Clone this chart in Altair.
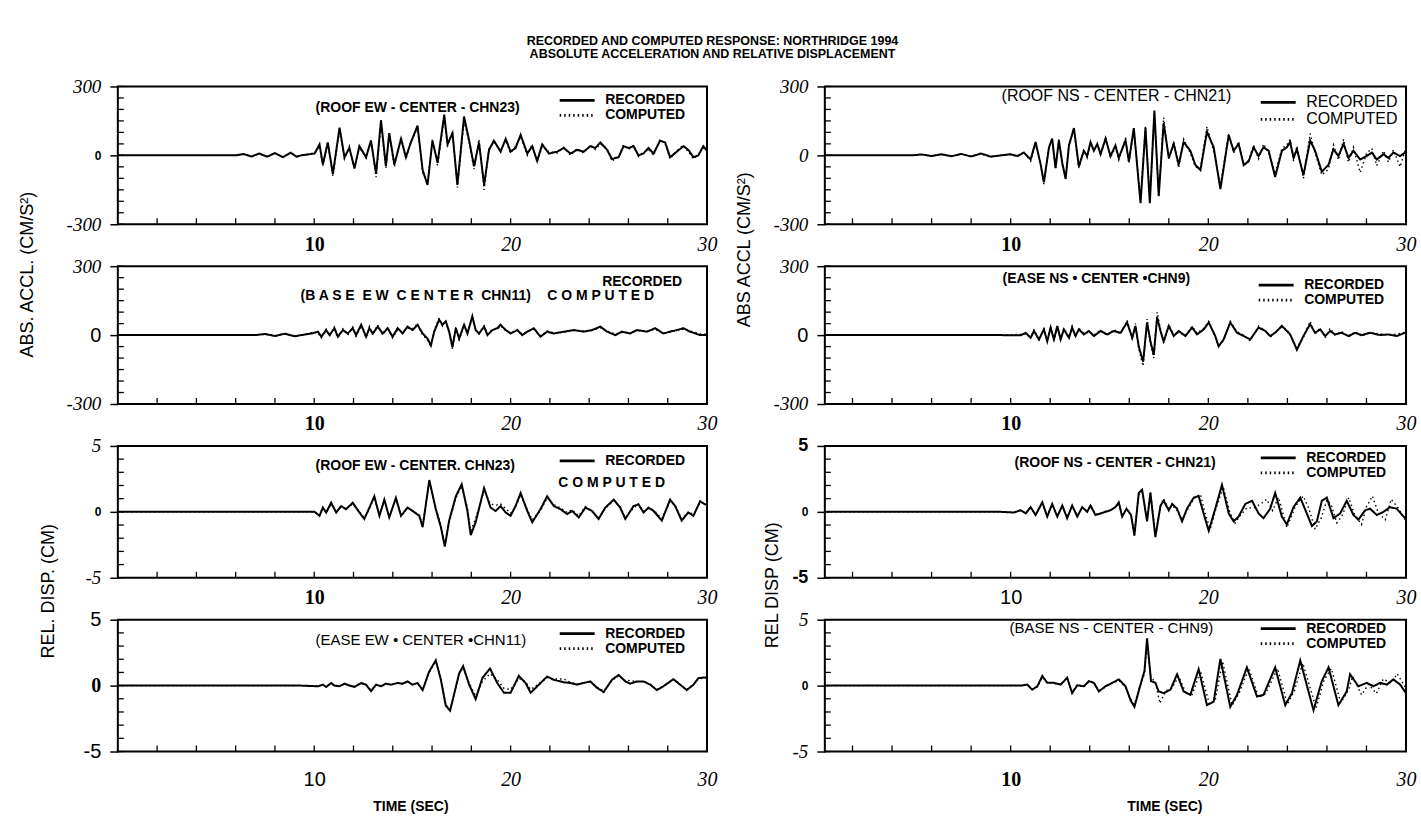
import altair as alt
import pandas as pd

SANS = "Liberation Sans"
SERIF = "Liberation Serif"

TITLE = ["RECORDED AND COMPUTED RESPONSE: NORTHRIDGE 1994",
         "ABSOLUTE ACCELERATION AND RELATIVE DISPLACEMENT"]
SERIES = ["RECORDED", "COMPUTED"]
X_LABELS = [10, 20, 30]
X_MINOR = [2, 4, 6, 8, 10, 12, 14, 16, 18, 20, 22, 24, 26, 28]
ACC_MAJOR = [-300, 0, 300]
ACC_MINOR = [-300, -250, -200, -150, -100, -50, 0, 50, 100, 150, 200, 250, 300]
DISP_MAJOR = [-5, 0, 5]
DISP_MINOR = [-5, -4, -3, -2, -1, 0, 1, 2, 3, 4, 5]

# ---- Panel 1: roof EW acceleration (cm/s2), CHN23
P1_T = [0, 6.0, 6.4, 6.8, 7.2, 7.6, 8.0, 8.4, 8.8, 9.1,
        9.34, 10.02, 10.27, 10.44, 10.69, 10.95, 11.29, 11.54, 11.79, 12.05, 12.30, 12.64, 12.89,
        13.15, 13.40, 13.65, 13.82, 14.08, 14.42, 14.67, 14.92, 15.26, 15.52, 15.77, 16.02, 16.28,
        16.62, 16.79, 17.04, 17.29, 17.63, 17.89, 18.14, 18.39, 18.65, 18.90, 19.15, 19.49, 19.75,
        20.00, 20.25, 20.51, 20.85, 21.10, 21.35, 21.61, 21.95, 22.37, 22.71, 23.05, 23.38, 23.72,
        24.06, 24.31, 24.57, 24.91, 25.16, 25.50, 25.75, 26.01, 26.26, 26.51, 26.77, 27.02, 27.28,
        27.61, 27.87, 28.12, 28.46, 28.80, 29.05, 29.31, 29.56, 29.81, 30.0]
P1_REC = [0, 0, 6, -5, 8, -6, 10, -8, 12, -6,
          0, 8, 48, -40, 56, -81, 121, -8, 32, -56, 40, -8, 64, -81, 153, -48, 97, -40, 72, -8,
          56, 129, -64, -129, 64, -32, 177, 48, 97, -129, 169, 64, -48, 56, -129, 24, 64, 16, 72,
          16, 32, 89, 8, 40, -24, 48, 8, 16, 32, 8, 24, 16, 40, 32, 56, 24, -16, -8, 40, 32, 40,
          0, 8, 32, 8, 64, 56, -8, 16, 40, 24, -8, 0, 40, 20]
P1_COM = [0, 0, 5, -4, 7, -5, 9, -7, 10, -5,
          0, 10, 40, -45, 60, -90, 110, -15, 40, -60, 35, -12, 70, -95, 140, -55, 90, -50, 80, -15,
          60, 120, -75, -120, 70, -45, 160, 40, 105, -140, 150, 55, -60, 70, -150, 30, 55, 25, 65,
          10, 40, 80, 0, 45, -30, 40, 15, 10, 35, 0, 30, 10, 45, 25, 50, 30, -25, -5, 45, 25, 45,
          -5, 15, 25, 0, 70, 50, -15, 20, 45, 15, -15, 5, 35, 15]

# ---- Panel 2: roof NS acceleration (cm/s2), CHN21
P2_T = [0, 5.0, 5.5, 6.0, 6.5, 7.0, 7.5, 8.0, 8.5, 9.0,
        9.50, 10.00, 10.34, 10.67, 11.01, 11.26, 11.52, 11.68, 11.94, 12.10, 12.27, 12.44, 12.61,
        12.78, 12.95, 13.20, 13.45, 13.70, 13.87, 14.04, 14.21, 14.38, 14.55, 14.80, 15.05, 15.30,
        15.47, 15.81, 15.98, 16.23, 16.57, 16.82, 17.04, 17.27, 17.49, 17.74, 18.00, 18.25, 18.50,
        18.75, 19.09, 19.34, 19.60, 19.93, 20.27, 20.61, 21.03, 21.28, 21.53, 21.79, 22.04, 22.29,
        22.54, 22.79, 23.05, 23.38, 23.72, 23.97, 24.14, 24.31, 24.48, 24.81, 25.15, 25.40, 25.74,
        26.08, 26.33, 26.58, 26.84, 27.09, 27.34, 27.68, 28.01, 28.27, 28.52, 28.86, 29.11, 29.36,
        29.70, 29.95]
P2_REC = [0, 0, 4, -3, 5, -4, 6, -5, 8, -6,
          0, 5, -3, 12, -18, 58, -41, -117, 35, 73, -56, 65, -33, -103, 43, 119, -49, 20, -3, 58,
          20, 50, 5, 73, -3, 43, -11, 65, -26, 119, -208, 119, -208, 195, -178, 141, -11, 50, -41,
          58, 20, -41, -64, 103, 35, -147, 88, 20, 50, -41, -26, 35, -3, 35, 20, -94, 20, 35, 58,
          -11, 27, -87, 65, 20, -71, -41, 27, -3, 50, -11, 20, -18, -3, 12, -18, 5, -11, 12, -3, 12]
P2_COM = [0, 0, 3, -2, 4, -3, 5, -4, 6, -4,
          0, 3, -5, 15, -25, 50, -45, -125, 40, 65, -60, 70, -40, -95, 50, 110, -55, 25, -10, 50,
          25, 45, 0, 80, -10, 35, -20, 75, -35, 110, -195, 130, -200, 180, -170, 165, -20, 60, -55,
          70, 10, -50, -55, 125, 20, -130, 95, 10, 60, -50, -20, 45, -15, 50, 10, -80, 30, 45, 70,
          -25, 40, -100, 95, 10, -85, -60, 45, -20, 70, -30, 35, -75, 10, 30, -45, 20, -30, 25, -50, 20]

# ---- Panel 3: base EW acceleration (cm/s2), CHN11
P3_T = [0, 7.0, 7.5, 8.0, 8.5, 9.0,
        9.34, 9.85, 10.19, 10.36, 10.61, 10.78, 11.03, 11.20, 11.46, 11.71, 11.96, 12.13, 12.39,
        12.64, 12.81, 12.98, 13.23, 13.49, 13.74, 13.99, 14.25, 14.50, 14.75, 15.01, 15.26, 15.52,
        15.77, 15.94, 16.11, 16.36, 16.53, 16.70, 16.87, 17.04, 17.21, 17.38, 17.63, 17.80, 18.05,
        18.22, 18.39, 18.65, 18.82, 19.07, 19.32, 19.49, 19.75, 20.00, 20.34, 20.59, 20.85, 21.18,
        21.52, 21.86, 22.20, 22.71, 23.21, 23.72, 24.15, 24.57, 24.91, 25.33, 25.67, 26.09, 26.43,
        26.94, 27.36, 27.78, 28.12, 28.46, 28.80, 29.14, 29.64, 30.0]
P3_REC = [0, 0, 5, -4, 6, -5,
          0, 7, 15, -7, 22, 0, 30, -7, 22, 7, 30, 0, 45, -7, 30, 7, 37, 7, 30, -7, 30, 7, 37, 22,
          45, 7, -15, -45, 15, 67, 45, 60, 15, -52, 30, -15, 45, 7, 82, 22, 7, 37, 0, 22, 30, 45,
          22, 7, 22, 0, 15, 30, -7, 15, 7, 15, 22, 15, 22, 37, 15, 0, 15, 7, 22, 15, 30, 7, 15, 22,
          30, 15, 0, 0]
P3_COM = [0, 0, 4, -3, 5, -4,
          0, 10, 10, -12, 25, -5, 35, -12, 28, 0, 35, -5, 40, -12, 38, 0, 45, 0, 35, -12, 25, 15,
          30, 28, 50, 0, -20, -50, 20, 75, 40, 65, 10, -60, 35, -20, 40, 12, 72, 25, 5, 40, 5, 25,
          25, 40, 20, 10, 20, 5, 15, 25, -3, 18, 10, 12, 20, 18, 20, 32, 18, 5, 12, 10, 20, 18, 25,
          10, 12, 20, 25, 18, 5, 3]

# ---- Panel 4: base NS acceleration (cm/s2), CHN9
P4_T = [0,
        9.50, 10.51, 10.76, 11.01, 11.18, 11.43, 11.68, 11.85, 12.02, 12.19, 12.36, 12.53, 12.69,
        12.95, 13.11, 13.28, 13.45, 13.70, 13.96, 14.21, 14.55, 14.88, 15.22, 15.56, 15.89, 16.15,
        16.31, 16.48, 16.70, 16.90, 17.07, 17.24, 17.41, 17.58, 17.74, 18.00, 18.25, 18.50, 18.84,
        19.18, 19.43, 19.77, 20.02, 20.35, 20.52, 20.77, 21.11, 21.45, 21.79, 22.12, 22.54, 22.88,
        23.13, 23.38, 23.72, 23.97, 24.14, 24.48, 24.81, 25.15, 25.40, 25.66, 25.91, 26.16, 26.41,
        26.75, 27.09, 27.43, 27.76, 28.18, 28.69, 29.11, 29.53, 29.95]
P4_REC = [0,
          0, -1, 10, -12, 18, -19, 25, -27, 33, -19, 40, -19, 25, -12, 33, -4, 25, 3, 18, -4, 18,
          3, 18, 10, 55, -12, 40, -49, -116, 55, -27, -86, 77, 18, -27, 40, -4, 18, -4, 33, 3, 25,
          55, -4, -49, -19, 55, 10, -4, -19, 33, 18, -4, 10, 40, 18, 3, -64, -4, 48, 10, 25, -4, 18,
          3, 10, -4, 10, 0, 10, 0, 3, -4, 10]
P4_COM = [0,
          0, 3, 5, -8, 22, -25, 30, -22, 38, -25, 35, -25, 30, -8, 38, -10, 30, 8, 12, 0, 22, -3,
          25, 5, 65, -20, 50, -60, -135, 70, -35, -100, 100, 25, -35, 45, 0, 12, 0, 38, 8, 30, 60,
          -10, -45, -25, 60, 15, 0, -25, 40, 20, -10, 15, 35, 25, 0, -55, -10, 60, 5, 30, -12, 30,
          0, 15, -8, 15, -5, 12, 5, 0, 5, 12]

# ---- Panel 5: roof EW relative displacement (cm), CHN23
P5_T = [0,
        10.02, 10.27, 10.44, 10.61, 10.86, 11.12, 11.37, 11.62, 11.96, 12.30, 12.55, 12.81, 13.06,
        13.32, 13.57, 13.82, 14.16, 14.42, 14.75, 15.01, 15.35, 15.52, 15.86, 16.19, 16.45, 16.65,
        16.87, 17.21, 17.51, 17.80, 17.97, 18.22, 18.65, 18.98, 19.24, 19.49, 19.75, 20.00, 20.25,
        20.51, 20.85, 21.10, 21.52, 21.86, 22.20, 22.54, 22.88, 23.13, 23.47, 23.81, 24.15, 24.48,
        24.82, 25.25, 25.58, 25.84, 26.26, 26.51, 26.77, 27.02, 27.28, 27.70, 28.12, 28.38, 28.71,
        29.05, 29.31, 29.65, 29.90, 30.0]
P5_REC = [0,
          0, -0.30, 0.32, -0.05, 0.69, -0.05, 0.44, 0.20, 0.69, -0.05, -0.54, 0.32, 1.18, -0.30,
          0.93, -0.42, 1.06, -0.30, 0.32, 0.07, -0.30, -1.16, 2.41, 0.20, -1.16, -2.63, -0.66, 1.18,
          2.09, 0.07, -1.77, -0.79, 1.80, 0.32, 0.07, 0.44, -0.05, -0.30, 0.44, 1.43, 0.07, -0.79,
          0.20, 1.18, 0.44, 0.20, -0.17, 0.07, -0.42, 0.32, 0.07, -0.54, 0.32, 0.93, 0.32, -0.54,
          0.44, 0.57, -0.05, 0.32, 0.07, -0.66, 0.93, 0.44, -0.66, -0.05, -0.30, 0.81, 0.57, 0.60]
P5_COM = [0,
          0, -0.25, 0.35, -0.10, 0.60, 0, 0.40, 0.25, 0.60, 0, -0.45, 0.25, 1.10, -0.25, 0.85,
          -0.35, 1.00, -0.25, 0.30, 0.10, -0.25, -1.05, 2.30, 0.30, -1.00, -2.50, -0.80, 1.05, 1.95,
          0.30, -1.45, -0.50, 1.62, 0.60, 0.50, 0.60, 0.25, -0.10, 0.35, 1.30, 0.15, -0.60, 0.10,
          1.05, 0.55, 0.30, -0.05, 0.15, -0.30, 0.40, 0.00, -0.45, 0.25, 0.85, 0.40, -0.45, 0.30,
          0.60, 0.05, 0.25, 0.15, -0.50, 0.80, 0.50, -0.55, 0.00, -0.20, 0.70, 0.65, 0.55]

# ---- Panel 6: roof NS relative displacement (cm), CHN21
P6_T = [0,
        9.50, 10.17, 10.51, 10.76, 11.01, 11.26, 11.60, 11.85, 12.10, 12.36, 12.61, 12.86, 13.11,
        13.37, 13.62, 13.87, 14.04, 14.29, 14.55, 14.80, 15.05, 15.30, 15.47, 15.64, 15.86, 16.09,
        16.26, 16.48, 16.65, 16.90, 17.07, 17.32, 17.58, 17.74, 18.00, 18.17, 18.42, 18.67, 18.92,
        19.26, 19.51, 19.76, 20.02, 20.35, 20.69, 21.03, 21.28, 21.53, 21.87, 22.21, 22.54, 22.79,
        23.13, 23.38, 23.72, 23.97, 24.31, 24.65, 24.98, 25.24, 25.49, 25.74, 25.99, 26.33, 26.67,
        27.00, 27.34, 27.59, 27.93, 28.18, 28.52, 28.86, 29.19, 29.53, 29.95]
P6_REC = [0,
          0, -0.05, 0.12, -0.12, 0.36, -0.24, 0.72, -0.36, 0.60, -0.36, 0.48, -0.48, 0.48, -0.36,
          0.36, 0, 0.48, -0.24, -0.12, 0, 0.12, 0.36, 0.72, -0.36, 0.24, -0.24, -1.80, 1.44, 1.68,
          -0.72, 1.44, -1.92, 0.48, 0.84, 0.12, 0.60, 0.24, -0.72, 0.24, 1.08, 1.20, -0.12, -1.44,
          0.24, 2.04, -0.12, -0.72, -0.36, 0.60, 0.84, -0.12, -0.48, 0.24, 1.44, -0.36, -0.96, 0.36,
          1.08, -0.12, -1.08, -0.72, 0.84, 1.08, -0.48, -0.12, 0.84, -0.24, -0.60, 0.12, 0.24,
          -0.24, 0, 0.36, 0.24, -0.48]
P6_COM_T = P6_T[:40] + [19.26, 19.60, 19.85, 20.10, 20.40, 20.75, 21.10, 21.35, 21.60, 21.95,
                        22.30, 22.65, 22.95, 23.25, 23.55, 23.97, 24.40, 24.80, 25.10, 25.40,
                        25.70, 26.00, 26.20, 26.50, 26.80, 27.10, 27.40, 27.75, 28.00, 28.30,
                        28.60, 28.95, 29.25, 29.60, 29.95]
P6_COM = [0,
          0, -0.05, 0.15, -0.10, 0.30, -0.20, 0.65, -0.30, 0.55, -0.30, 0.45, -0.40, 0.45, -0.30,
          0.30, 0.05, 0.45, -0.20, -0.10, 0.05, 0.15, 0.35, 0.65, -0.30, 0.20, -0.20, -1.65, 1.30,
          1.55, -0.60, 1.55, -1.75, 0.35, 1.00, 0.20, 0.50, 0.10, -0.60, 0.10,
          1.00, 1.35, -0.20, -1.30, 0.30, 1.90, -0.10, -0.85, -0.30, 0.30, 0.30, 0.60, 0.96, 0.10,
          1.10, -1.20, 0.40, 1.20, 0.20, -1.32, -0.50, 0.90, 0.60, -0.84, -0.20, 1.08, -0.20, -0.96,
          0.40, 1.20, -0.10, -0.60, 0.96, 0.30, -0.60]

# ---- Panel 7: base EW relative displacement (cm), CHN11
P7_T = [0, 9.34,
        10.19, 10.44, 10.61, 10.86, 11.03, 11.29, 11.54, 11.79, 12.05, 12.39, 12.64, 12.89, 13.15,
        13.40, 13.65, 13.91, 14.25, 14.50, 14.75, 15.01, 15.26, 15.52, 15.85, 16.19, 16.45, 16.70,
        16.92, 17.12, 17.38, 17.58, 17.89, 18.22, 18.56, 18.95, 19.32, 19.66, 20.00, 20.42, 20.76,
        21.02, 21.44, 21.86, 22.20, 22.71, 23.05, 23.38, 23.72, 24.06, 24.40, 24.74, 25.16, 25.50,
        25.84, 26.09, 26.43, 26.77, 27.11, 27.45, 27.78, 28.29, 28.63, 28.97, 29.31, 29.56, 29.90,
        30.0]
P7_REC = [0, 0,
          -0.05, 0.07, -0.10, 0.20, 0, -0.05, 0.15, 0, -0.10, 0.20, 0.07, -0.42, 0.07, -0.05, 0.15,
          0.07, 0.20, 0.15, 0.32, 0.07, 0.20, -0.34, 1.06, 1.92, 0.44, -1.53, -1.90, -0.66, 0.93,
          1.48, 0.07, -1.03, 0.57, 1.30, 0.20, -0.54, -0.54, 0.74, 0.20, -0.54, 0.07, 0.69, 0.44,
          0.25, 0.20, 0.07, 0.20, 0.32, -0.17, -0.49, 0.44, 0.81, 0.32, 0.15, 0.32, 0.32, 0.07,
          -0.34, -0.05, 0.49, 0.07, -0.34, 0.07, 0.57, 0.62, 0.62]
P7_COM = [0, 0,
          -0.03, 0.05, -0.08, 0.15, 0.02, -0.03, 0.12, 0.02, -0.08, 0.15, 0.05, -0.35, 0.05, -0.03,
          0.12, 0.05, 0.18, 0.12, 0.28, 0.07, 0.18, -0.30, 1.00, 1.85, 0.50, -1.45, -1.80, -0.70,
          0.85, 1.35, 0.20, -0.80, 0.30, 0.90, 0.45, -0.20, -0.30, 0.55, 0.30, -0.30, 0.15, 0.60,
          0.50, 0.50, 0.25, 0.10, 0.20, 0.30, -0.10, -0.40, 0.40, 0.75, 0.35, 0.40, 0.30, 0.30,
          0.10, -0.30, 0.00, 0.45, 0.10, -0.30, 0.10, 0.50, 0.60, 0.60]

# ---- Panel 8: base NS relative displacement (cm), CHN9
P8_T = [0,
        9.50, 10.51, 10.84, 11.09, 11.35, 11.60, 11.85, 12.19, 12.53, 12.86, 13.11, 13.37, 13.70,
        13.96, 14.21, 14.46, 14.80, 15.14, 15.47, 15.81, 16.06, 16.26, 16.57, 16.77, 16.90, 17.10,
        17.32, 17.49, 17.74, 18.08, 18.42, 18.75, 19.09, 19.51, 19.93, 20.27, 20.61, 21.11, 21.45,
        21.95, 22.46, 22.79, 23.38, 23.89, 24.23, 24.65, 25.32, 25.74, 26.08, 26.58, 27.00, 27.17,
        27.59, 28.01, 28.35, 28.69, 29.03, 29.36, 29.70, 30.0]
P8_REC = [0,
          0, 0, 0.08, -0.31, -0.05, 0.73, 0.21, 0.21, 0.08, 0.60, -0.57, 0.03, -0.05, 0.34, 0.21,
          -0.44, -0.05, 0.21, 0.47, -0.05, -1.09, -1.61, 0.08, 1.12, 3.59, 0.34, 0.21, -0.44, -0.57,
          -0.31, 0.86, -0.44, -0.70, 1.25, -1.48, -1.22, 2.03, -1.61, -0.70, 1.38, -0.83, -0.70,
          1.38, -1.48, -0.57, 1.90, -1.87, 0.34, 1.38, -1.48, -0.44, 0.86, -0.05, 0.21, -0.05, 0.21,
          0.08, 0.47, 0.08, -0.57]
P8_COM_T = P8_T[:28] + [17.55, 17.85, 18.15, 18.50, 18.85, 19.15, 19.60, 20.05, 20.35, 20.72,
                        21.20, 21.55, 22.05, 22.55, 22.90, 23.50, 24.00, 24.35, 24.78, 25.45,
                        25.85, 26.22, 26.70, 27.10, 27.30, 27.75, 28.10, 28.50, 28.85, 29.25,
                        29.55, 30.0]
P8_COM = [0,
          0, 0, 0.05, -0.25, -0.10, 0.65, 0.25, 0.15, 0.12, 0.50, -0.50, 0.05, -0.10, 0.30, 0.25,
          -0.40, -0.10, 0.20, 0.40, -0.10, -1.00, -1.45, 0.10, 0.90, 3.10, 0.60, 0.30,
          -1.35, -0.40, -0.20, 0.70, -0.50, -0.80, 1.10, -1.40, -1.10, 1.85, -1.50, -0.60, 1.30,
          -0.90, -0.60, 1.30, -1.40, -0.40, 1.70, -1.70, 0.40, 1.30, -1.30, -0.30, 0.70, -0.70,
          0.10, -0.60, 0.50, 0.20, 0.90, -0.20]

# ---------------------------------------------------------------- styling
STYLES = {
    "it": (SERIF, 19, "italic", "normal"),
    "it20": (SERIF, 20, "italic", "normal"),
    "bs": (SANS, 12, "normal", "bold"),
    "sn": (SANS, 20, "normal", "normal"),
    "bsl": (SANS, 18, "normal", "bold"),
    "bser": (SERIF, 20, "normal", "bold"),
}
NB = "\u00a0"


def label_style(test, special, other):
    s, o = STYLES[special], STYLES[other]
    keys = ["labelFont", "labelFontSize", "labelFontStyle", "labelFontWeight"]
    return {k: {"condition": {"test": test, "value": s[i]}, "value": o[i]}
            for i, k in enumerate(keys)}


def panel(p):
    W, H = p["w"], p["h"]
    xkw = dict(values=X_LABELS, labelExpr="'' + datum.value", ticks=False, tickSize=0,
               domain=False, grid=False, labelPadding=p["xpad"], labelFlush=False,
               labelColor="black", labelBaseline="top")
    xkw.update(label_style("datum.value == 10", p["x10"], "it20"))
    if "xtitle" in p:
        xkw.update(title="TIME (SEC)", titleFont=SANS, titleFontSize=14, titleFontWeight="bold",
                   titleColor="black", titleX=p["xtitle"], titleY=55, titleBaseline="middle",
                   titleAlign="center")
    else:
        xkw.update(title=None)
    ykw = dict(values=p["ymaj"], labelExpr="'' + datum.value", ticks=True, tickSize=8,
               tickWidth=1.5, tickColor="black", domain=False, grid=False, labelPadding=9,
               labelFlush=False, labelColor="black", labelBaseline="middle")
    ykw.update(label_style("datum.value == 0", p["yzero"], p["yext"]))
    if "ytitle" in p:
        txt, tx, ty = p["ytitle"]
        ykw.update(title=txt, titleFont=SANS, titleFontSize=18, titleFontWeight="normal",
                   titleColor="black", titleX=tx, titleY=ty, titleBaseline="middle",
                   titleAlign="center")
    else:
        ykw.update(title=None)

    xenc = alt.X("t:Q", scale=alt.Scale(domain=p["xdom"], nice=False, zero=False),
                 axis=alt.Axis(**xkw))
    yenc = alt.Y("v:Q", scale=alt.Scale(domain=p["ydom"], nice=False, zero=False),
                 axis=alt.Axis(**ykw))

    if "legend" in p:
        lx, ly, lw, ls, entries = p["legend"]
        legend = alt.Legend(orient="none", legendX=lx, legendY=ly, title=None,
                            direction="vertical", values=entries,
                            symbolType="stroke", symbolSize=1225, symbolStrokeWidth=2.8,
                            symbolStrokeColor="black", labelFont=SANS, labelFontSize=ls,
                            labelFontWeight=lw, labelColor="black", labelOffset=9,
                            clipHeight=14, rowPadding=1, padding=0)
    else:
        legend = None
    dash = alt.StrokeDash("series:N",
                          scale=alt.Scale(domain=SERIES, range=[[1, 0], [1.5, 3]]),
                          legend=legend)

    rec = pd.DataFrame({"t": p["t_rec"], "v": p["v_rec"], "series": "RECORDED"})
    com = pd.DataFrame({"t": p["t_com"], "v": p["v_com"], "series": "COMPUTED"})

    com_line = alt.Chart(com).mark_line(color="black", strokeWidth=1.4, clip=True).encode(
        x=xenc, y=yenc, strokeDash=dash)
    rec_line = alt.Chart(rec).mark_line(color="black", strokeWidth=2.0, clip=True).encode(
        x=xenc, y=yenc, strokeDash=dash)

    xt = alt.Chart(pd.DataFrame({"t": X_MINOR})).mark_rule(color="black", strokeWidth=1.3).encode(
        x=xenc, y=alt.value(H), y2=alt.value(H - 6))
    yt = alt.Chart(pd.DataFrame({"v": p["ymin"]})).mark_rule(color="black", strokeWidth=1.3).encode(
        y=yenc, x=alt.value(0), x2=alt.value(6))

    layers = [com_line, rec_line, xt, yt]
    for txt, tx, ty, fs, fw in p["texts"]:
        layers.append(
            alt.Chart(pd.DataFrame({"txt": [txt]})).mark_text(
                align="left", baseline="middle", font=SANS, fontSize=fs, fontWeight=fw,
                color="black").encode(x=alt.value(tx), y=alt.value(ty), text="txt:N"))
    return alt.layer(*layers).properties(width=W, height=H)


ACC = dict(ydom=[-300, 300], ymaj=ACC_MAJOR, ymin=ACC_MINOR)
DISP = dict(ydom=[-5, 5], ymaj=DISP_MAJOR, ymin=DISP_MINOR)
LEFT = dict(w=590, xdom=[0, 30])
RIGHT = dict(w=582, xdom=[0.6, 30])

BASE_EW = "(B A S E" + NB + " E W" + NB + " C E N T E R" + NB + " CHN11)"
SPACED_COMPUTED = "C O M P U T E D"

specs = [
    dict(LEFT, **ACC, h=138, t_rec=P1_T, v_rec=P1_REC, t_com=P1_T, v_com=P1_COM,
         yzero="bs", yext="it", x10="bser", xpad=10,
         texts=[("(ROOF EW - CENTER - CHN23)", 198, 22, 14, "bold")],
         legend=(441, 7, "bold", 14, SERIES), ytitle=("ABS. ACCL. (CM/S²)", -90, 188)),
    dict(RIGHT, **ACC, h=138, t_rec=P2_T, v_rec=P2_REC, t_com=P2_T, v_com=P2_COM,
         yzero="it", yext="it", x10="bser", xpad=10,
         texts=[("(ROOF NS - CENTER - CHN21)", 177, 10, 16, "normal")],
         legend=(435, 9, "normal", 16, SERIES), ytitle=("ABS ACCL (CM/S²)", -80, 163)),
    dict(LEFT, **ACC, h=138, t_rec=P3_T, v_rec=P3_REC, t_com=P3_T, v_com=P3_COM,
         yzero="sn", yext="it", x10="bser", xpad=10,
         texts=[(BASE_EW, 183, 30, 14, "bold"),
                ("RECORDED", 485, 16, 14, "bold"),
                (SPACED_COMPUTED, 430, 30, 14, "bold")]),
    dict(RIGHT, **ACC, h=138, t_rec=P4_T, v_rec=P4_REC, t_com=P4_T, v_com=P4_COM,
         yzero="sn", yext="it", x10="bser", xpad=10,
         texts=[("(EASE NS • CENTER •CHN9)", 178, 13, 14, "bold")],
         legend=(433, 12, "bold", 14, SERIES)),
    dict(LEFT, **DISP, h=132, t_rec=P5_T, v_rec=P5_REC, t_com=P5_T, v_com=P5_COM,
         yzero="bs", yext="it", x10="bser", xpad=10,
         texts=[("(ROOF EW - CENTER. CHN23)", 198, 20, 14, "bold"),
                (SPACED_COMPUTED, 441, 37, 14, "bold")],
         legend=(441, 8, "bold", 14, ["RECORDED"]),
         ytitle=("REL. DISP. (CM)", -69, 145)),
    dict(RIGHT, **DISP, h=132, t_rec=P6_T, v_rec=P6_REC, t_com=P6_COM_T, v_com=P6_COM,
         yzero="bs", yext="bsl", x10="sn", xpad=10,
         texts=[("(ROOF NS - CENTER - CHN21)", 190, 17, 14, "bold")],
         legend=(435, 5, "bold", 14, SERIES), ytitle=("REL DISP (CM)", -52, 139)),
    dict(LEFT, **DISP, h=132, t_rec=P7_T, v_rec=P7_REC, t_com=P7_T, v_com=P7_COM,
         yzero="bser", yext="sn", x10="sn", xpad=18, xtitle=293,
         texts=[("(EASE EW • CENTER •CHN11)", 198, 20, 15, "normal")],
         legend=(441, 7, "bold", 14, SERIES)),
    dict(RIGHT, **DISP, h=132, t_rec=P8_T, v_rec=P8_REC, t_com=P8_COM_T, v_com=P8_COM,
         yzero="bs", yext="it", x10="bser", xpad=18, xtitle=340,
         texts=[("(BASE NS - CENTER - CHN9)", 185, 8, 15, "normal")],
         legend=(435, 2, "bold", 14, SERIES)),
]

chart = alt.concat(
    *[panel(s) for s in specs],
    columns=2,
    spacing={"row": 42, "column": 118},
    bounds="flush",
    title=alt.TitleParams(text=TITLE, font=SANS, fontSize=12.5, fontWeight="bold",
                          color="black", anchor="middle", offset=16, lineHeight=13, dx=-5),
    padding={"left": 18, "top": 34, "right": 4, "bottom": 5},
    background="white",
).resolve_scale(strokeDash="independent").resolve_legend(strokeDash="independent"
).configure_view(stroke="black", strokeWidth=2)

chart.save("out.html", embed_options={"renderer": "svg", "actions": False})
